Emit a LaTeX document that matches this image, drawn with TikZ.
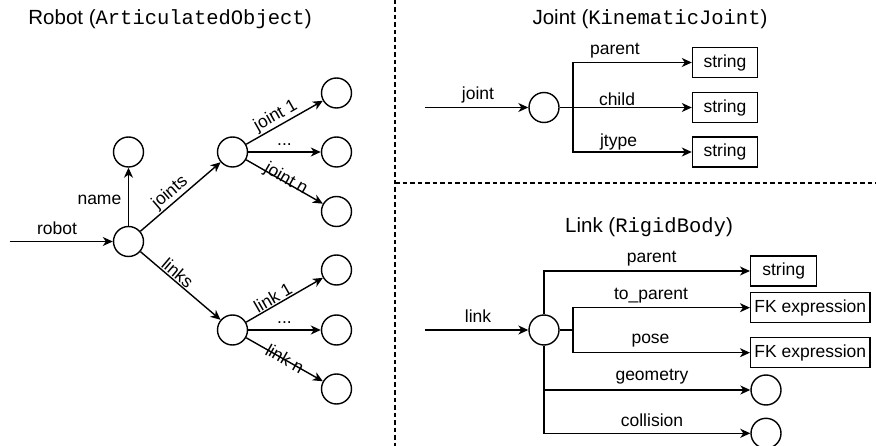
\documentclass[tikz,border=0pt]{standalone}
\usepackage{fontspec}
\setmainfont{Liberation Sans}
\setmonofont{Liberation Mono}
\usetikzlibrary{arrows.meta}
\newcommand{\lblfont}{\fontsize{17.5}{20}\selectfont}
\newcommand{\ttlfont}{\fontsize{20.5}{24}\selectfont}
\begin{document}
\begin{tikzpicture}[x=1pt,y=-1pt,line width=1.4pt,
  circ/.style={circle,draw,fill=white,minimum size=30pt,inner sep=0pt},
  vbox/.style={rectangle,draw,fill=white,minimum height=30pt,inner sep=0pt,font=\lblfont},
  arr/.style={-{Stealth[length=10pt,width=9pt,inset=3pt]}},
  lab/.style={font=\lblfont,inner sep=1pt},
  ttl/.style={font=\ttlfont,inner sep=0pt,anchor=base},
  sep/.style={line width=1.2pt,dash pattern=on 4.5pt off 3pt}]
\fill[white] (0,0) rectangle (876,446);
\useasboundingbox (0,0) rectangle (876,446);

% separators
\coordinate (dv1) at (395,0);
\coordinate (dv2) at (395,446);
\coordinate (dh1) at (395,183);
\coordinate (dh2) at (876,183);
\draw[sep] (dv1) -- (dv2);
\draw[sep] (dh1) -- (dh2);

% titles
\node[ttl] (t1) at (170,25) {Robot (\texttt{ArticulatedObject})};
\node[ttl] (t2) at (650,25) {Joint (\texttt{KinematicJoint})};
\node[ttl] (t3) at (649,233) {Link (\texttt{RigidBody})};

% ---------- Robot ----------
\node[circ] (r) at (128.5,241.5) {};
\node[circ] (nm) at (128.5,152) {};
\node[circ] (jt) at (232.5,152) {};
\node[circ] (lk) at (232.5,330) {};
\node[circ] (j1) at (336.5,93) {};
\node[circ] (j2) at (336.5,152) {};
\node[circ] (j3) at (336.5,211.5) {};
\node[circ] (l1) at (336.5,270) {};
\node[circ] (l2) at (336.5,330) {};
\node[circ] (l3) at (336.5,389) {};
\coordinate (rin) at (10,241.5);

\draw[arr] (rin) -- (r);
\node[lab,anchor=base] (lrobot) at (57,235) {robot};
\draw[arr] (r) -- (nm);
\node[lab,anchor=base east] (lname) at (123,205) {name};
\draw[arr] (r) -- node[lab,sloped,above,pos=0.45] (ljoints) {joints} (jt);
\draw[arr] (r) -- node[lab,sloped,above,pos=0.4] (llinks) {links} (lk);

\draw[arr] (jt) -- node[lab,sloped,above,pos=0.45] (lj1) {joint 1} (j1);
\draw[arr] (jt) -- node[lab,anchor=base,yshift=6pt] (ljd) {...} (j2);
\draw[arr] (jt) -- node[lab,sloped,above=-7pt,pos=0.5] (ljn) {joint n} (j3);

\draw[arr] (lk) -- node[lab,sloped,above,pos=0.4] (ll1) {link 1} (l1);
\draw[arr] (lk) -- node[lab,anchor=base,yshift=6pt] (lld) {...} (l2);
\draw[arr] (lk) -- node[lab,sloped,above=-7pt,pos=0.5] (lln) {link n} (l3);

% ---------- Joint ----------
\node[circ] (jc) at (544,107.5) {};
\coordinate (jin) at (425,107.5);
\draw[arr] (jin) -- (jc);
\node[lab,anchor=base] (ljoint) at (478,100) {joint};
\node[vbox,minimum width=65pt] (s1) at (725,62.5) {string};
\node[vbox,minimum width=65pt] (s2) at (725,107.5) {string};
\node[vbox,minimum width=65pt] (s3) at (725,152) {string};
\coordinate (jb) at (573,107.5);
\draw (jc) -- (jb);
\draw[arr] (jb) |- (s1);
\draw[arr] (jb) -- (s2);
\draw[arr] (jb) |- (s3);
\node[lab,anchor=base] (ljp) at (615,55) {parent};
\node[lab,anchor=base] (ljc) at (617,105.5) {child};
\node[lab,anchor=base] (ljt) at (618.5,147) {jtype};

% ---------- Link ----------
\node[circ] (lc) at (544,330) {};
\coordinate (lin) at (425,330);
\draw[arr] (lin) -- (lc);
\node[lab,anchor=base] (llink) at (478,323) {link};
\node[vbox,minimum width=66pt] (ls) at (783.7,271) {string};
\node[vbox,minimum width=119.3pt] (fk1) at (810.3,307.7) {FK expression};
\node[vbox,minimum width=119.3pt] (fk2) at (810.3,352.7) {FK expression};
\node[circ] (geo) at (766,390) {};
\node[circ] (col) at (766,433.3) {};
\coordinate (lb) at (573,330);
\draw[arr] (lc.north) |- (ls.west);
\draw (lc) -- (lb);
\draw[arr] (lb) |- (fk1.west);
\draw[arr] (lb) |- (fk2.west);
\draw[arr] (lc.south) |- (geo.west);
\draw[arr] (lc.south) |- (col.west);
\node[lab,anchor=base] (llp) at (651.7,263) {parent};
\node[lab,anchor=base] (lltp) at (651,300) {to\_parent};
\node[lab,anchor=base] (llpose) at (650.5,344) {pose};
\node[lab,anchor=base] (llgeo) at (652,381) {geometry};
\node[lab,anchor=base] (llcol) at (652,426) {collision};
\end{tikzpicture}
\end{document}
